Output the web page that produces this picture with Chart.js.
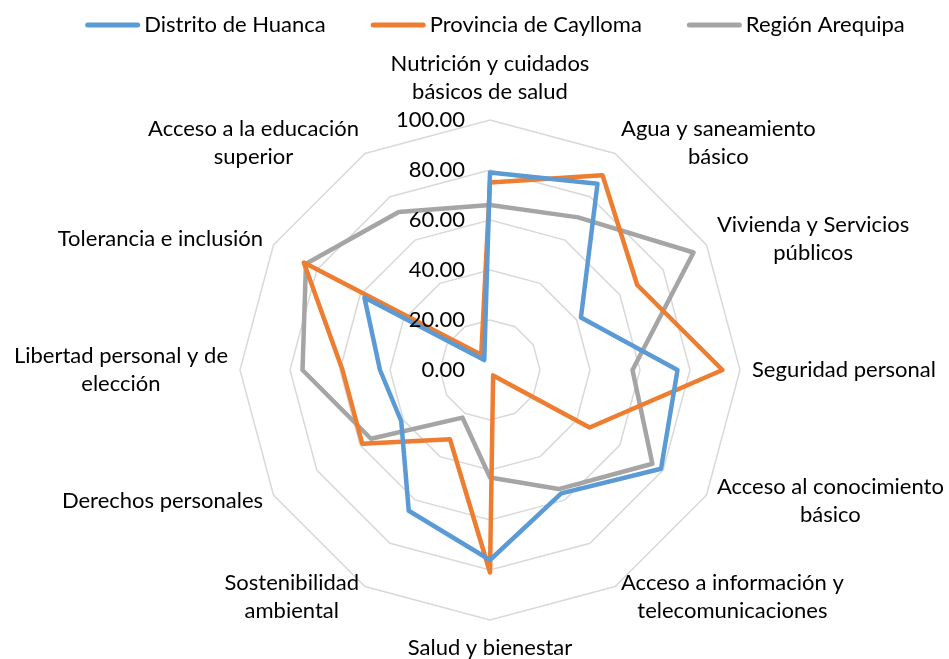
<!DOCTYPE html>
<html>
<head>
<meta charset="utf-8">
<script src="https://cdn.jsdelivr.net/npm/chart.js@4.4.1/dist/chart.umd.min.js"></script>
<style>
  html, body { margin: 0; padding: 0; background: #fff; }
  canvas { display: block; }
</style>
</head>
<body>
<canvas id="radar" width="949" height="659"></canvas>
<script>
// categorias (con saltos de linea como en el original)
const categorias = [
  ['Nutrición y cuidados', 'básicos de salud'],
  ['Agua y saneamiento', 'básico'],
  ['Vivienda y Servicios', 'públicos'],
  ['Seguridad personal'],
  ['Acceso al conocimiento', 'básico'],
  ['Acceso a información y', 'telecomunicaciones'],
  ['Salud y bienestar'],
  ['Sostenibilidad', 'ambiental'],
  ['Derechos personales'],
  ['Libertad personal y de', 'elección'],
  ['Tolerancia e inclusión'],
  ['Acceso a la educación', 'superior']
];

const huanca   = [79, 86, 42, 75, 79, 57, 76, 65, 41, 44, 58, 4.6];
const caylloma = [75, 90, 68, 93, 46, 2.5, 81, 32, 59, 59, 86, 7];
const arequipa = [66, 70.5, 94, 57, 75, 55, 43, 22, 55, 75, 85, 73];

const series = ['Distrito de Huanca', 'Provincia de Caylloma', 'Región Arequipa'];
const colores = ['#5b9bd5', '#ed7d31', '#a5a5a5'];

const tickVals = [0, 20, 40, 60, 80, 100];
const tickLabels = ['0.00', '20.00', '40.00', '60.00', '80.00', '100.00'];

const FUENTE = '22px Lato';

// textos: ejes, etiquetas y leyenda al estilo Excel
const textos = {
  id: 'textos',
  afterDraw(chart) {
    const ctx = chart.ctx;
    const r = chart.scales.r;
    ctx.save();
    ctx.font = FUENTE;
    ctx.fillStyle = '#000';
    ctx.textBaseline = 'middle';

    ctx.textAlign = 'right';
    tickVals.forEach((v, i) => {
      const y = r.yCenter - r.getDistanceFromCenterForValue(v);
      ctx.fillText(tickLabels[i], r.xCenter - 25, y);
    });

    const lh = 28;
    ctx.textAlign = 'center';
    categorias.forEach((lines, i) => {
      const ang = Math.round(i * 360 / categorias.length);
      const w = Math.max(...lines.map(t => ctx.measureText(t).width));
      let x, y;
      if (ang === 0 || ang === 180) {
        const p = r.getPointPosition(i, r.drawingArea + 28);
        x = p.x - w / 2;
        y = ang === 0 ? p.y - (lines.length - 1) * lh : p.y;
      } else {
        const p = r.getPointPosition(i, r.drawingArea + 12);
        x = ang < 180 ? p.x : p.x - w;
        y = p.y - (lines.length - 1) * lh / 2;
      }
      lines.forEach((t, k) => ctx.fillText(t, x + w / 2, y + k * lh));
    });

    // leyenda
    const largo = 55, sep = 4, hueco = 45, ly = 25;
    const anchos = series.map(s => ctx.measureText(s).width);
    const total = anchos.reduce((a, b) => a + b + largo + sep, 0) + hueco * (series.length - 1);
    let x = r.xCenter + 5 - total / 2;
    ctx.textAlign = 'left';
    ctx.lineCap = 'round';
    ctx.lineWidth = 5;
    series.forEach((s, i) => {
      ctx.strokeStyle = colores[i];
      ctx.beginPath();
      ctx.moveTo(x + 2.5, ly);
      ctx.lineTo(x + largo - 2.5, ly);
      ctx.stroke();
      ctx.fillText(s, x + largo + sep, ly);
      x += largo + sep + anchos[i] + hueco;
    });
    ctx.restore();
  }
};

new Chart(document.getElementById('radar'), {
  type: 'radar',
  data: {
    labels: categorias,
    datasets: [
      { label: series[0], data: huanca, borderColor: colores[0], backgroundColor: colores[0] },
      { label: series[1], data: caylloma, borderColor: colores[1], backgroundColor: colores[1] },
      { label: series[2], data: arequipa, borderColor: colores[2], backgroundColor: colores[2] }
    ]
  },
  options: {
    responsive: false,
    animation: false,
    layout: { padding: { left: 100, right: 69, top: 120, bottom: 39 } },
    plugins: { legend: { display: false }, tooltip: { enabled: false } },
    scales: {
      r: {
        min: 0,
        max: 100,
        ticks: { display: false, stepSize: 20 },
        pointLabels: { display: false },
        angleLines: { display: false },
        grid: { color: '#d9d9d9', lineWidth: 1.5 }
      }
    },
    elements: {
      line: { borderWidth: 4.5, tension: 0, borderJoinStyle: 'round', fill: false },
      point: { radius: 0, hoverRadius: 0, hitRadius: 0 }
    }
  },
  plugins: [textos]
});
</script>
</body>
</html>
